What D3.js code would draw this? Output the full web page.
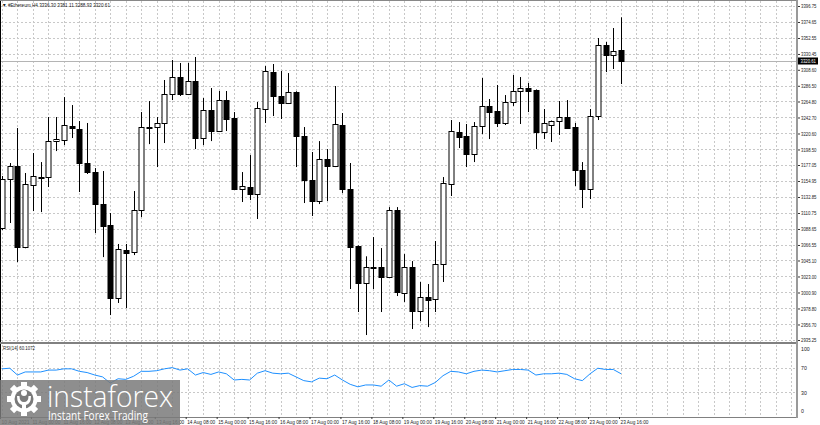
<!DOCTYPE html>
<html><head><meta charset="utf-8">
<script src="https://cdn.jsdelivr.net/npm/d3@7"></script>
<style>body{margin:0;background:#fff}svg{display:block}</style>
</head><body><svg id="c" width="820" height="425"></svg>
<script>
// ---- data (ETH H4) ----
const opens  = [3089.9,3157.7,3175.6,3063.7,3149.4,3160.8,3160.4,3210.1,3211.5,3230.9,3226.8,3179.8,3167.3,3123.1,3094.1,2993.2,3059.5,3056.8,3114.8,3229.8,3229.5,3235.1,3275.1,3298.6,3275.1,3293.1,3214.3,3253.0,3224.0,3266.8,3241.9,3143.9,3146.6,3136.9,3254.4,3305.5,3272.4,3262.7,3277.9,3217.1,3156.3,3127.3,3185.3,3175.6,3232.3,3143.9,3065.1,3014.0,3036.0,3036.0,3022.2,3114.8,3000.2,3036.0,2975.3,2994.6,2991.8,3040.2,3150.8,3222.6,3217.1,3192.2,3230.9,3258.6,3251.6,3235.1,3264.1,3279.3,3283.4,3280.6,3222.6,3232.3,3237.8,3243.3,3229.5,3170.1,3143.9,3244.7,3342.8,3329.0,3336.30];
const highs  = [3161.8,3179.8,3228.1,3166.0,3193.6,3181.1,3243.3,3243.3,3270.9,3259.9,3237.8,3235.1,3172.8,3168.7,3110.7,3067.9,3067.9,3141.1,3250.2,3265.4,3243.3,3294.5,3322.1,3318.0,3318.0,3326.3,3269.6,3283.4,3279.3,3279.3,3250.2,3167.3,3190.8,3264.1,3313.8,3316.6,3306.9,3304.1,3279.0,3229.5,3195.0,3210.1,3199.1,3286.2,3248.9,3179.8,3066.0,3050.9,3077.5,3062.3,3118.9,3118.9,3054.0,3044.3,3015.4,3012.6,3072.0,3160.4,3239.2,3236.4,3233.7,3236.4,3297.3,3268.2,3287.6,3273.7,3301.4,3298.6,3290.3,3281.5,3254.4,3238.5,3265.4,3266.8,3235.1,3181.1,3254.4,3352.5,3347.0,3366.3,3381.11];
const lows   = [3087.2,3096.9,3042.9,3062.0,3113.4,3112.0,3146.6,3196.3,3204.6,3214.3,3139.7,3164.6,3083.1,3049.8,2969.7,2986.4,2979.4,3052.6,3105.1,3205.9,3174.2,3207.4,3266.8,3272.4,3273.7,3199.1,3204.6,3210.1,3222.6,3224.0,3142.5,3125.9,3128.6,3102.4,3235.1,3244.7,3240.6,3261.3,3174.2,3124.5,3106.6,3123.1,3127.3,3174.2,3138.3,3005.7,2973.9,2942.1,3005.7,2973.9,3021.0,2996.0,2987.8,2950.4,2961.5,2953.1,2973.9,3015.4,3134.2,3200.5,3174.2,3181.1,3219.8,3212.9,3229.5,3232.3,3258.6,3233.7,3250.2,3199.1,3212.9,3208.8,3218.5,3227.0,3148.0,3117.6,3130.0,3239.2,3305.5,3309.7,3288.93];
const closes = [3157.7,3175.6,3063.7,3150.8,3161.8,3160.2,3210.1,3213.0,3232.3,3228.1,3179.8,3167.3,3123.1,3092.7,2993.2,3061.0,3055.4,3114.8,3229.5,3229.2,3235.1,3275.1,3298.6,3275.1,3293.1,3214.3,3253.0,3224.0,3266.8,3240.6,3143.9,3148.0,3136.9,3255.8,3306.9,3272.4,3262.7,3277.9,3217.1,3156.3,3127.3,3185.3,3175.6,3233.7,3143.9,3063.7,3014.0,3036.0,3035.6,3022.2,3114.8,3001.5,3036.0,2975.3,2994.6,2990.5,3040.2,3152.2,3224.0,3215.7,3192.2,3230.9,3258.6,3250.2,3235.1,3264.1,3279.3,3283.4,3279.3,3222.6,3235.1,3237.8,3243.3,3228.1,3170.1,3143.9,3244.7,3342.8,3329.0,3334.6,3320.61];
const rsi = [68,69,58,63,63,63,66,66,68,68,64,62,58,55,45,52,51,56,64,64,65,68,70,66,68,58,62,59,63,60,50,51,50,61,65,61,60,61,55,49,47,53,52,58,50,43,39,42,42,40,50,40,44,38,41,40,46,57,64,63,60,64,66,65,63,65,67,67,66,58,60,60,61,59,52,49,60,69,67,67,60.1072];
const priceTicks = [3396.75,3374.65,3352.55,3330.45,3308.60,3286.50,3264.80,3242.70,3220.60,3198.50,3177.05,3154.95,3132.85,3110.75,3088.65,3066.55,3045.10,3023.00,3000.90,2978.80,2956.70,2935.25];
const rsiTicks = [100,70,30,0];
const timeLabels = ["10 Aug 2021","11 Aug 00:00","11 Aug 16:00","12 Aug 08:00","13 Aug 00:00","13 Aug 16:00","14 Aug 08:00","15 Aug 00:00","15 Aug 16:00","16 Aug 08:00","17 Aug 00:00","17 Aug 16:00","18 Aug 08:00","19 Aug 00:00","19 Aug 16:00","20 Aug 08:00","21 Aug 00:00","21 Aug 16:00","22 Aug 08:00","23 Aug 00:00","23 Aug 16:00"];
const timeLabelIdx = [0,4,8,12,16,20,24,28,32,36,40,44,48,52,56,60,64,68,72,76,80];
const title = "\u25BC #Ethereum,H4  3336.30 3381.11 3288.93 3320.61";
const rsiTitle = "RSI(14) 60.1072";
const lastPrice = 3320.61;

// ---- layout ----
const svg = d3.select("#c");
const plotR = 797, mainT = 1, mainB = 342, rsiT = 344, rsiB = 417;
const x = d3.scaleLinear().domain([0, 80]).range([2, 621]);
const y = d3.scaleLinear().domain([2935.25, 3396.75]).range([340, 6]);
const yr = d3.scaleLinear().domain([0, 100]).range([411, 349]);
const gridIdx = d3.range(0, 103, 2);
const font = "'Liberation Sans', Arial, sans-serif";

svg.append("rect").attr("width", 820).attr("height", 425).attr("fill", "#fff");

const clipM = svg.append("clipPath").attr("id", "cm").append("rect")
  .attr("x", 1).attr("y", mainT).attr("width", plotR - 1).attr("height", mainB - mainT);

// grid main
const g = svg.append("g");
g.selectAll(".hg").data(priceTicks).join("line")
  .attr("x1", 1).attr("x2", plotR).attr("y1", d => Math.round(y(d)) + 0.5).attr("y2", d => Math.round(y(d)) + 0.5)
  .attr("stroke", "#c8c8c8").attr("stroke-dasharray", "2,2");
g.selectAll(".vg").data(gridIdx).join("line")
  .attr("x1", d => Math.round(x(d)) + 0.5).attr("x2", d => Math.round(x(d)) + 0.5)
  .attr("y1", mainT).attr("y2", mainB).attr("stroke", "#c8c8c8").attr("stroke-dasharray", "2,2");
// grid rsi
g.selectAll(".rg").data([70, 30]).join("line")
  .attr("x1", 1).attr("x2", plotR).attr("y1", d => Math.round(yr(d)) + 0.5).attr("y2", d => Math.round(yr(d)) + 0.5)
  .attr("stroke", "#c8c8c8").attr("stroke-dasharray", "2,2");
g.selectAll(".rvg").data(gridIdx).join("line")
  .attr("x1", d => Math.round(x(d)) + 0.5).attr("x2", d => Math.round(x(d)) + 0.5)
  .attr("y1", rsiT + 1).attr("y2", rsiB).attr("stroke", "#c8c8c8").attr("stroke-dasharray", "2,2");

// bid line
svg.append("line").attr("x1", 1).attr("x2", plotR)
  .attr("y1", Math.round(y(lastPrice)) + 0.5).attr("y2", Math.round(y(lastPrice)) + 0.5)
  .attr("stroke", "#b4b4b4");

// candles
const data = opens.map((o, i) => ({ i, o, h: highs[i], l: lows[i], c: closes[i] }));
const cg = svg.append("g").attr("clip-path", "url(#cm)");
const cx = d => Math.round(x(d.i)) + 0.5;
cg.selectAll(".wick").data(data).join("line")
  .attr("x1", cx).attr("x2", cx).attr("y1", d => y(d.h)).attr("y2", d => y(d.l))
  .attr("stroke", "#000").attr("stroke-width", 1);
cg.selectAll(".body").data(data).join("rect")
  .attr("x", d => cx(d) - 2.5)
  .attr("width", 5)
  .attr("y", d => Math.round(y(Math.max(d.o, d.c))) + 0.5)
  .attr("height", d => Math.max(1, Math.round(Math.abs(y(d.o) - y(d.c)))))
  .attr("fill", d => d.c >= d.o ? "#fff" : "#000")
  .attr("stroke", "#000").attr("stroke-width", 1);

// RSI line
svg.append("path").datum(rsi)
  .attr("d", d3.line().x((d, i) => x(i)).y(d => yr(d)))
  .attr("fill", "none").attr("stroke", "#1E90FF").attr("stroke-width", 1);

// frames
svg.append("line").attr("x1", 0.5).attr("x2", 0.5).attr("y1", 0).attr("y2", rsiB).attr("stroke", "#000");
svg.append("line").attr("x1", 0).attr("x2", plotR).attr("y1", 0.5).attr("y2", 0.5).attr("stroke", "#888");
svg.append("rect").attr("x", 0).attr("y", mainB).attr("width", plotR).attr("height", 2).attr("fill", "#808080");
svg.append("line").attr("x1", 0).attr("x2", plotR + 1).attr("y1", rsiB + 0.5).attr("y2", rsiB + 0.5).attr("stroke", "#808080");
svg.append("rect").attr("x", plotR - 1).attr("y", 0).attr("width", 2).attr("height", rsiB + 1).attr("fill", "#9a9a9a");

// price axis
const pa = svg.append("g").attr("transform", `translate(${plotR + 1},0)`)
  .call(d3.axisRight(y).tickValues(priceTicks).tickSize(2).tickFormat(d => d.toFixed(2)));
pa.select(".domain").remove();
pa.selectAll("line").attr("stroke", "#333");
pa.selectAll("text").attr("x", 3).attr("font-family", font).attr("font-size", 5.2).attr("fill", "#222")
  .attr("textLength", 15.5).attr("lengthAdjust", "spacingAndGlyphs");

// rsi axis
const ra = svg.append("g").attr("transform", `translate(${plotR + 1},0)`)
  .call(d3.axisRight(yr).tickValues(rsiTicks).tickSize(0).tickFormat(d3.format("d")));
ra.select(".domain").remove();
ra.selectAll("text").attr("x", 3).attr("font-family", font).attr("font-size", 5.2).attr("fill", "#222");

// current price label
const lp = svg.append("g").attr("transform", `translate(${plotR + 1},${Math.round(y(lastPrice))})`);
lp.append("rect").attr("x", 0).attr("y", -3.5).attr("width", 20).attr("height", 7).attr("fill", "#000");
lp.append("text").attr("x", 2.5).attr("y", 0).attr("dy", "0.35em").text(lastPrice.toFixed(2))
  .attr("font-family", font).attr("font-size", 5.2).attr("fill", "#fff")
  .attr("textLength", 15.5).attr("lengthAdjust", "spacingAndGlyphs");

// time axis
const ta = svg.append("g").attr("transform", `translate(0,${rsiB})`)
  .call(d3.axisBottom(x).tickValues(timeLabelIdx).tickSize(2).tickFormat((d, k) => timeLabels[k]));
ta.select(".domain").remove();
ta.selectAll("line").attr("stroke", "#333").attr("transform", "translate(-2,0)");
ta.selectAll("text").attr("text-anchor", "start").attr("x", -1).attr("y", 3).attr("dy", "0.71em")
  .attr("font-family", font).attr("font-size", 5.2).attr("fill", "#222")
  .attr("textLength", 28).attr("lengthAdjust", "spacingAndGlyphs");

// titles
svg.append("text").attr("x", 2).attr("y", 7).text(title)
  .attr("font-family", font).attr("font-size", 5.2).attr("fill", "#222")
  .attr("textLength", 108).attr("lengthAdjust", "spacingAndGlyphs");
svg.append("text").attr("x", 3).attr("y", rsiT + 5.5).text(rsiTitle)
  .attr("font-family", font).attr("font-size", 5.2).attr("fill", "#222")
  .attr("textLength", 32).attr("lengthAdjust", "spacingAndGlyphs");

// watermark
const wm = svg.append("g");
wm.append("rect").attr("x", 0).attr("y", 380).attr("width", 180).attr("height", 45)
  .attr("fill", "#7a7a7a").attr("opacity", 0.85);
const gear = wm.append("g").attr("transform", "translate(24,399)").attr("fill", "#fff");
gear.append("circle").attr("r", 13.5);
d3.range(8).forEach(k => {
  gear.append("rect").attr("x", -3).attr("y", -17).attr("width", 6).attr("height", 6)
    .attr("transform", `rotate(${k * 45})`);
});
gear.append("circle").attr("r", 9.5).attr("fill", "#7a7a7a");
gear.append("circle").attr("cy", -6).attr("r", 3).attr("fill", "#fff");
gear.append("path").attr("d", "M-7,-3 Q-7,5 -2,6 L-2,12 L2,12 L2,6 Q7,5 7,-3 L4.5,-3 Q4.5,3 0,3 Q-4.5,3 -4.5,-3 Z");
wm.append("text").attr("x", 47).attr("y", 407).text("instaforex")
  .attr("font-family", "'Open Sans', Lato, sans-serif").attr("font-size", 29).attr("font-weight", 300)
  .attr("fill", "#fff").attr("textLength", 126).attr("lengthAdjust", "spacingAndGlyphs");
wm.append("text").attr("x", 48).attr("y", 420).text("Instant Forex Trading")
  .attr("font-family", "'Open Sans', Lato, sans-serif").attr("font-size", 12)
  .attr("fill", "#fff").attr("textLength", 100).attr("lengthAdjust", "spacingAndGlyphs");
</script></body></html>
